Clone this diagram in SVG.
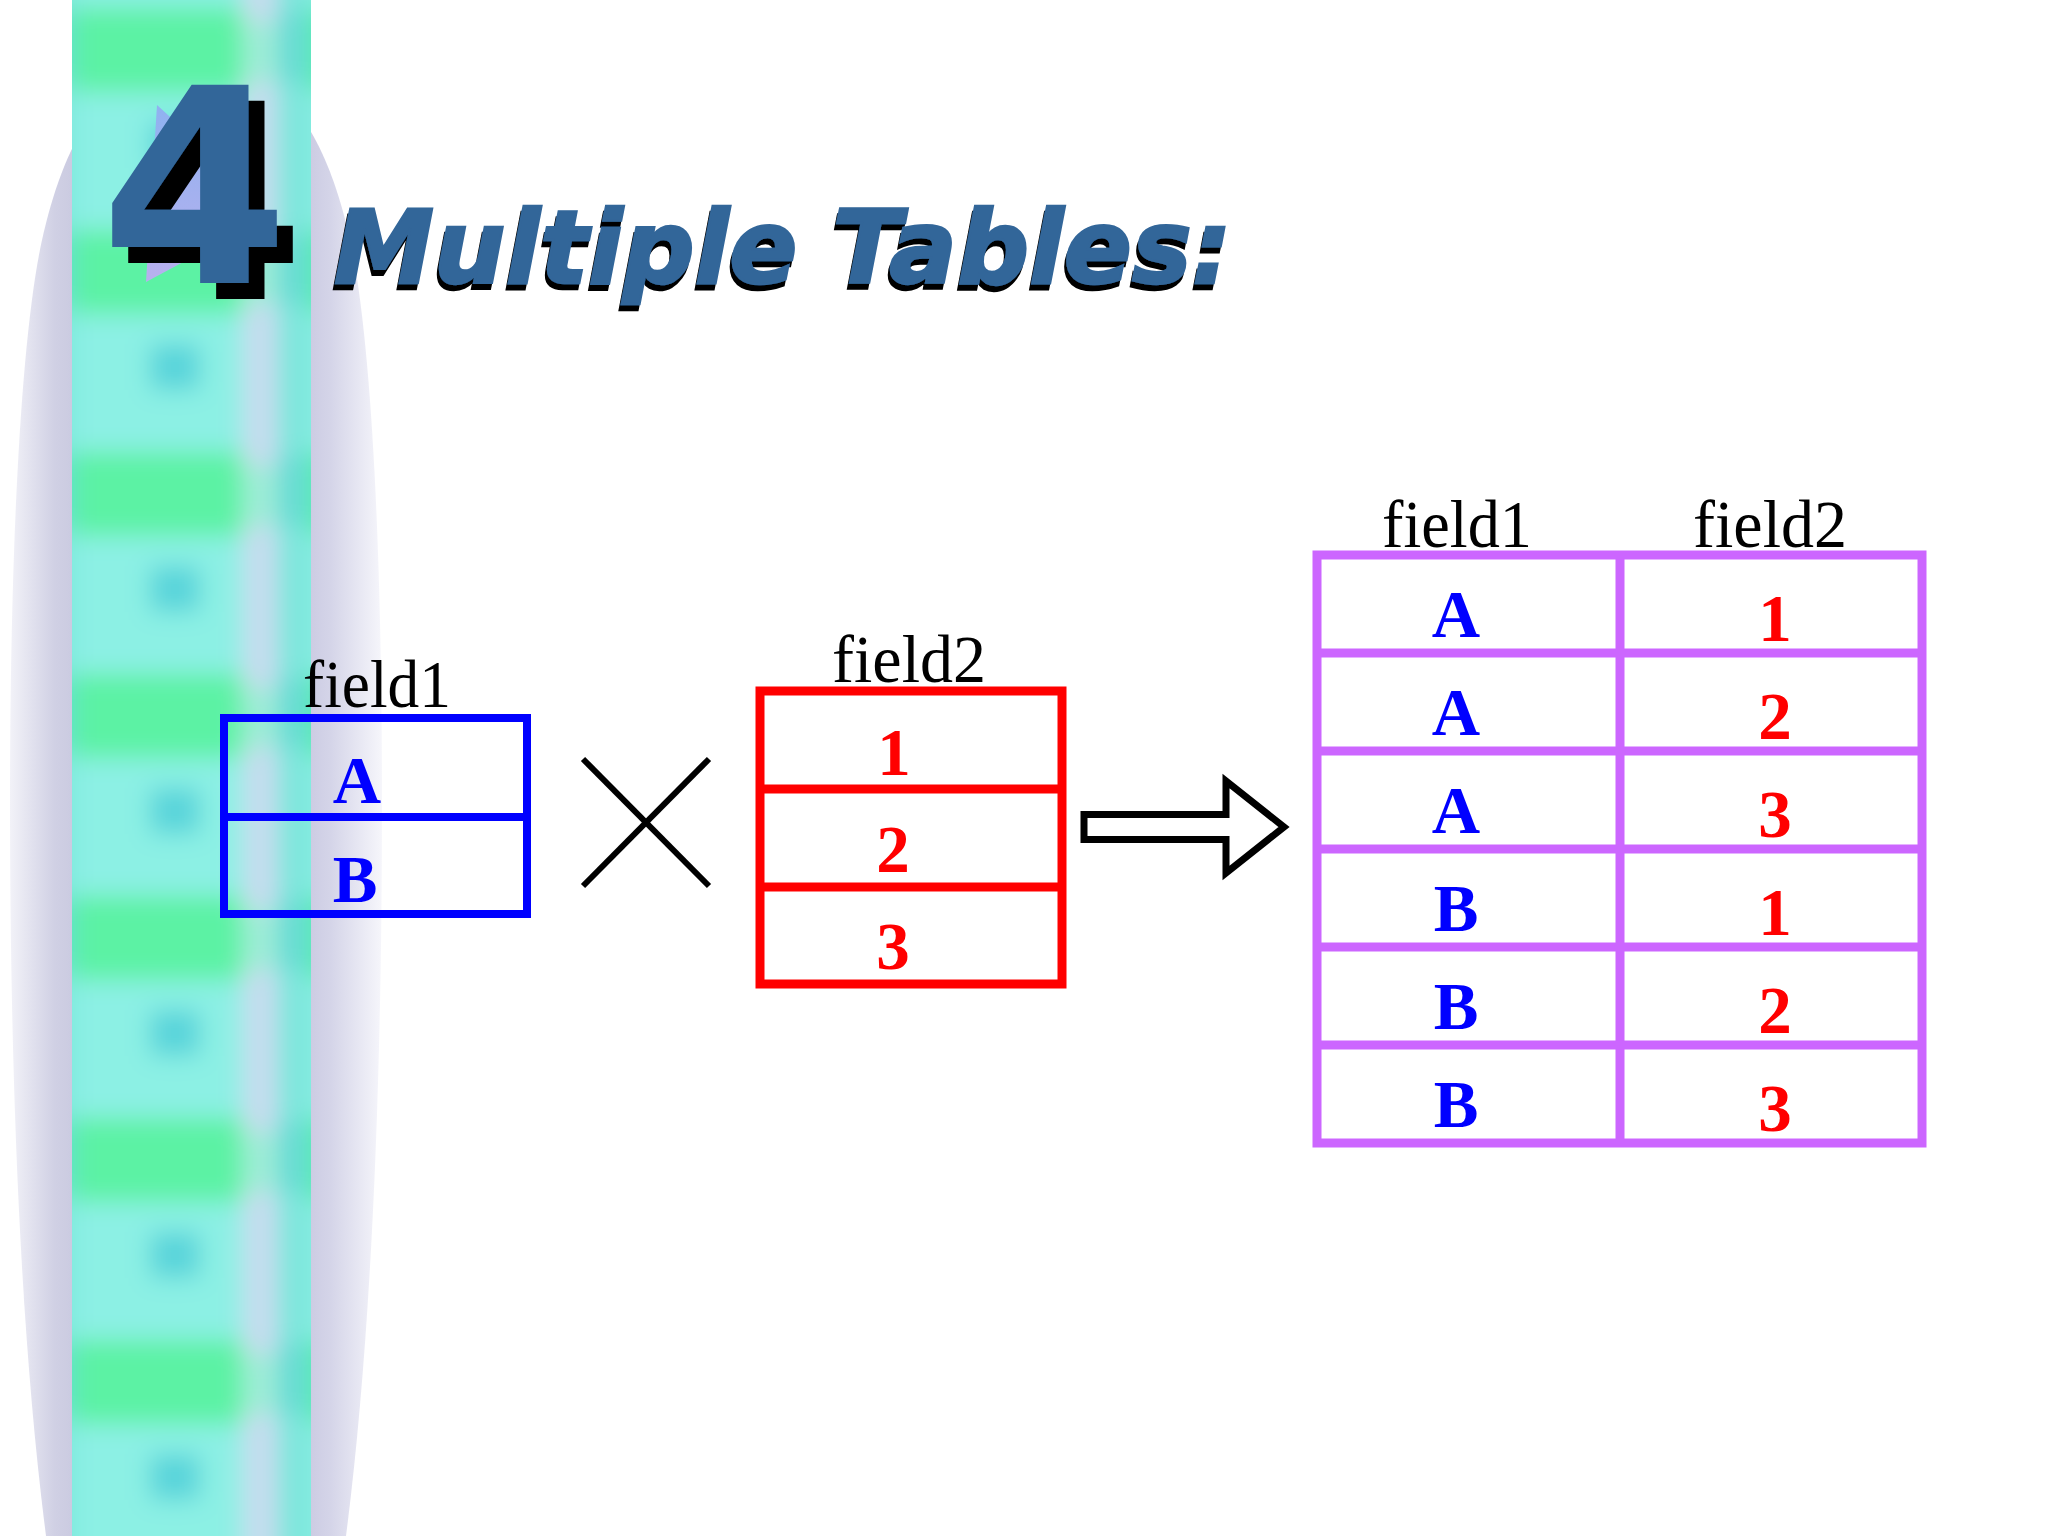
<svg xmlns="http://www.w3.org/2000/svg" width="2048" height="1536" viewBox="0 0 2048 1536">
<defs>
<style>
.lbl{font-family:"Liberation Serif","Times New Roman",serif;font-size:68px;fill:#000;text-anchor:middle}
.val{font-family:"Liberation Serif","Times New Roman",serif;font-weight:bold;font-size:67px;text-anchor:middle}
.b{fill:#0000ff}
.r{fill:#ff0000}
.tb{fill:none;stroke:#0000ff;stroke-width:8}
.tr{fill:none;stroke:#ff0000;stroke-width:9}
.tp{fill:none;stroke:#cc66ff;stroke-width:9}
.ttl{font-family:"DejaVu Sans","Liberation Sans",sans-serif;font-weight:bold;font-style:italic;font-size:102px;fill:#336699;stroke:#336699;stroke-width:2.5}
.big{font-family:"DejaVu Sans","Liberation Sans",sans-serif;font-weight:bold;font-size:272px;fill:#336699}
</style>
<linearGradient id="lav" x1="0" y1="0" x2="1" y2="0">
<stop offset="0" stop-color="#f2f2f8"/>
<stop offset="0.12" stop-color="#d0d0e4"/>
<stop offset="0.3" stop-color="#bcbcd8"/>
<stop offset="0.7" stop-color="#bcbcd8"/>
<stop offset="0.86" stop-color="#d4d4e8"/>
<stop offset="1" stop-color="#f6f6fb"/>
</linearGradient>
<linearGradient id="tri" x1="0" y1="0" x2="0" y2="1">
<stop offset="0" stop-color="#8fb2f0"/>
<stop offset="1" stop-color="#b8b0ee"/>
</linearGradient>
<pattern id="stripes" patternUnits="userSpaceOnUse" x="72" y="-28" width="240" height="222">
<rect width="240" height="222" fill="#8cf0e4"/>
<rect x="0" y="36" width="172" height="84" fill="#5cf2a4"/>
<rect x="78" y="150" width="50" height="46" fill="#58d4da"/>
<rect x="171" y="0" width="34" height="222" fill="#c8dcef"/>
<rect x="171" y="50" width="34" height="60" fill="#a0ecd8"/>
<rect x="205" y="0" width="35" height="222" fill="#7ce6dc"/>
<rect x="205" y="40" width="35" height="70" fill="#66dcd4"/>
</pattern>
<filter id="blur" x="-0.2" y="-0.05" width="1.4" height="1.1">
<feGaussianBlur stdDeviation="12"/>
</filter>
<filter id="shadowBig" x="-0.1" y="-0.1" width="1.3" height="1.3">
<feFlood flood-color="#000"/>
<feComposite in2="SourceAlpha" operator="in"/>
<feOffset dx="16" dy="16" result="sh"/>
<feMerge><feMergeNode in="sh"/><feMergeNode in="SourceGraphic"/></feMerge>
</filter>
<filter id="shadowTitle" x="-0.05" y="-0.2" width="1.1" height="1.5">
<feFlood flood-color="#000"/>
<feComposite in2="SourceAlpha" operator="in"/>
<feOffset dx="-2" dy="6" result="sh"/>
<feMerge><feMergeNode in="sh"/><feMergeNode in="SourceGraphic"/></feMerge>
</filter>
<clipPath id="stripClip"><rect x="72" y="0" width="239" height="1536"/></clipPath>
</defs>
<rect width="2048" height="1536" fill="#ffffff"/>
<g id="background">
<path d="M196,60 C290,60 330,150 350,240 C372,340 382,560 382,800 C382,1100 370,1350 346,1536 L46,1536 C22,1350 10,1100 10,800 C10,560 20,340 42,240 C62,150 102,60 196,60 Z" fill="url(#lav)"/>
<g clip-path="url(#stripClip)">
<rect x="40" y="-40" width="300" height="1620" fill="url(#stripes)" filter="url(#blur)"/>
</g>
<polygon points="157,105 215,158 215,245 146,282" fill="url(#tri)"/>
</g>
<g id="title">
<text class="big" x="100" y="283" filter="url(#shadowBig)">4</text>
<text class="ttl" x="334" y="283" textLength="898" lengthAdjust="spacingAndGlyphs" filter="url(#shadowTitle)">Multiple Tables:</text>
</g>
<g id="table-field1">
<text class="lbl" x="377" y="707" textLength="148" lengthAdjust="spacingAndGlyphs">field1</text>
<rect class="tb" x="224" y="718" width="303" height="196"/>
<line class="tb" x1="224" y1="817" x2="527" y2="817"/>
<text class="val b" x="357" y="803">A</text>
<text class="val b" x="355" y="902">B</text>
</g>
<g id="table-field2">
<text class="lbl" x="909" y="682" textLength="154" lengthAdjust="spacingAndGlyphs">field2</text>
<rect class="tr" x="760" y="691" width="302" height="293"/>
<line class="tr" x1="760" y1="789" x2="1062" y2="789"/>
<line class="tr" x1="760" y1="887" x2="1062" y2="887"/>
<text class="val r" x="894" y="775">1</text>
<text class="val r" x="893" y="872">2</text>
<text class="val r" x="893" y="969">3</text>
</g>
<g id="table-result">
<text class="lbl" x="1457" y="547" textLength="150" lengthAdjust="spacingAndGlyphs">field1</text>
<text class="lbl" x="1770" y="547" textLength="154" lengthAdjust="spacingAndGlyphs">field2</text>
<rect class="tp" x="1317" y="555" width="605" height="588"/>
<line class="tp" x1="1620" y1="555" x2="1620" y2="1143"/>
<line class="tp" x1="1317" y1="653" x2="1922" y2="653"/>
<line class="tp" x1="1317" y1="751" x2="1922" y2="751"/>
<line class="tp" x1="1317" y1="849" x2="1922" y2="849"/>
<line class="tp" x1="1317" y1="947" x2="1922" y2="947"/>
<line class="tp" x1="1317" y1="1045" x2="1922" y2="1045"/>
<text class="val b" x="1456" y="637">A</text>
<text class="val b" x="1456" y="735">A</text>
<text class="val b" x="1456" y="833">A</text>
<text class="val b" x="1456" y="931">B</text>
<text class="val b" x="1456" y="1029">B</text>
<text class="val b" x="1456" y="1127">B</text>
<text class="val r" x="1775" y="641">1</text>
<text class="val r" x="1775" y="739">2</text>
<text class="val r" x="1775" y="837">3</text>
<text class="val r" x="1775" y="935">1</text>
<text class="val r" x="1775" y="1033">2</text>
<text class="val r" x="1775" y="1131">3</text>
</g>
<g id="connectors">
<line x1="583" y1="759" x2="709" y2="886" stroke="#000" stroke-width="6"/>
<line x1="583" y1="886" x2="709" y2="759" stroke="#000" stroke-width="6"/>
<path d="M1084,814.5 H1226 V781 L1284,827 L1226,873 V839.5 H1084 Z" fill="#fff" stroke="#000" stroke-width="7"/>
</g>
</svg>
